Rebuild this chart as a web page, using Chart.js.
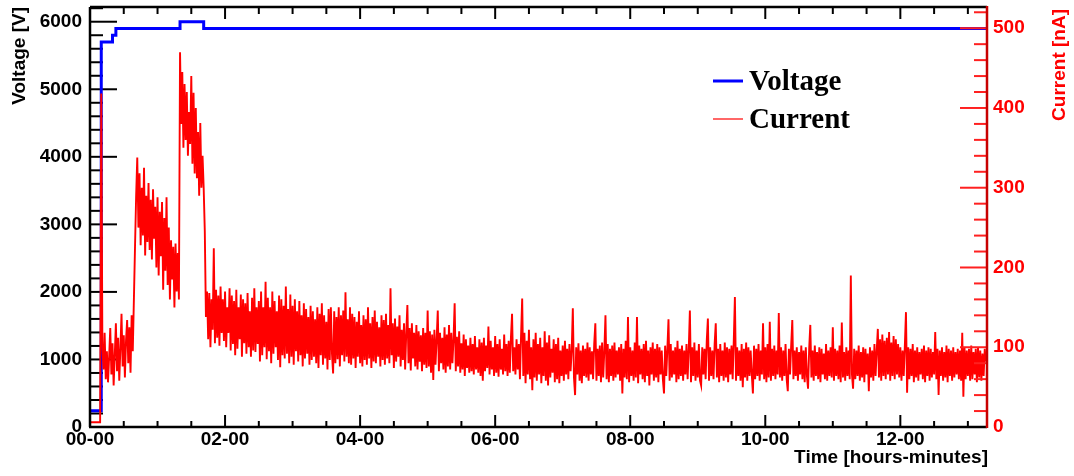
<!DOCTYPE html>
<html><head><meta charset="utf-8">
<script src="https://cdn.jsdelivr.net/npm/chart.js@4.4.0/dist/chart.umd.min.js"></script>
<style>html,body{margin:0;padding:0;background:#fff;overflow:hidden}canvas{display:block}</style>
</head><body>
<canvas id="c" width="1074" height="476"></canvas>
<script>
// ---- data (time in minutes) ----
const currentStartMin = 0;
const currentStepMin = 1;
const currentValues = [
  6,6,6,6,6,6,6,6,6,6, 418,100,72,118,60,95,56,88,124,66,
  105,52,90,130,70,112,58,98,142,76, 115,62,108,134,80,125,68,140,95,160,
  226,290,338,250,318,228,300,240,325,215, 290,232,306,222,285,210,298,236,276,200,
  288,190,270,214,282,172,262,196,288,178, 250,160,234,185,226,150,230,170,218,160,
  470,380,445,350,430,360,420,340,395,355, 440,330,419,318,400,312,370,290,381,300,
  340,300,245,138,170,110,168,100,160,122, 224,105,172,112,165,102,176,118,160,108,
  170,100,150,118,174,96,165,104,158,90, 172,98,150,110,166,88,160,105,155,92,
  168,100,145,88,162,96,174,94,150,104, 158,82,170,90,150,100,182,85,162,95,
  150,80,170,92,158,100,145,84,165,75, 160,90,152,86,176,92,148,80,166,88,
  152,78,160,95,145,82,158,90,140,76, 155,86,148,92,138,78,152,84,145,88,
  135,80,150,74,142,90,155,78,140,86, 132,72,148,84,150,92,67,145,80,138,
  85,150,76,140,90,146,82,169,88,135, 80,150,78,142,86,138,74,132,88,145,
  80,128,76,140,84,135,78,150,86,130, 74,138,82,146,80,132,88,125,76,140,
  84,134,78,142,86,128,80,174,90,130, 74,136,82,126,88,140,76,122,84,130,
  72,118,153,80,124,71,130,86,118,76, 128,72,120,82,115,70,124,78,118,74,
  146,76,120,68,116,59,122,78,110,146, 70,118,80,112,72,125,68,116,76,128,
  72,118,80,110,155,70,113,76,120,68, 105,72,116,64,110,74,102,68,112,70,
  104,66,114,72,100,68,110,64,106,58, 112,70,102,74,126,66,108,72,100,64,
  114,68,104,63,110,72,98,66,116,70, 104,64,108,68,112,142,70,100,66,110,
  72,104,60,115,161,64,118,55,108,66, 122,60,100,46,110,62,118,58,104,66,
  112,55,100,64,120,58,106,52,115,62, 98,68,110,56,104,60,112,55,96,64,
  102,58,108,66,98,60,104,70,96,149, 62,40,100,66,105,58,96,55,102,64,
  98,62,106,58,100,66,95,60,104,130, 58,98,64,102,56,106,62,96,140,60,
  104,56,98,64,102,58,106,62,96,66, 100,58,104,42,98,62,108,60,138,56,
  100,64,96,58,106,62,138,55,102,66, 98,60,104,56,108,64,96,52,100,66,
  106,58,98,62,104,56,100,66,96,60, 42,102,64,98,135,58,104,62,96,66,
  100,56,108,60,98,64,102,58,96,66, 104,60,98,146,56,100,64,106,58,96,
  62,104,58,52,100,66,98,60,108,136, 58,100,64,96,60,104,130,62,98,56,
  104,64,96,58,106,62,100,56,98,66, 102,60,108,163,58,100,64,96,58,104,
  50,98,62,106,58,100,64,96,66,42, 102,60,98,64,104,58,96,66,130,60,
  100,56,104,62,132,58,98,64,102,60, 96,66,143,62,100,58,96,64,104,60,
  45,98,66,102,134,60,96,64,100,58, 94,66,102,60,96,56,100,64,48,98,
  128,62,96,58,102,64,94,60,100,56, 98,66,92,60,104,58,96,64,100,62,
  125,58,98,64,96,60,102,56,131,62, 94,58,100,64,96,60,190,66,48,98,
  60,96,64,102,58,94,62,100,56,98, 66,92,45,100,62,96,58,104,64,96,
  123,62,110,58,116,64,108,60,112,66, 119,58,106,64,114,60,110,66,104,62,
  100,58,96,64,102,144,43,100,60,98, 64,104,56,96,62,100,58,94,66,98,
  60,102,56,96,64,100,58,98,62,94, 66,119,60,98,40,96,64,100,58,94,
  62,102,56,98,64,96,58,100,62,94, 66,98,60,96,58,118,38,100,60,96,
  64,98,58,102,60,94,66,98,56,100, 62,96,58,92,64,98,82
];
const voltageTimes  = [0, 10, 20, 23, 80, 101, 797];
const voltageValues = [240, 5700, 5800, 5900, 6000, 5900, 5900];

const xTickMinutes = [0, 120, 240, 360, 480, 600, 720];
const voltageTicks = [0, 1000, 2000, 3000, 4000, 5000, 6000];
const currentTicks = [0, 100, 200, 300, 400, 500];

const X_MAX = 797, V_MAX = 6218, I_MAX = 526.6;

function fmtTime(m) {
  const h = Math.floor(m / 60), mm = Math.round(m % 60);
  return String(h).padStart(2, '0') + '-' + String(mm).padStart(2, '0');
}

const currentData = currentValues.map((v, i) => ({x: currentStartMin + i * currentStepMin, y: v}));
const voltageData = [];
voltageTimes.forEach((t, i) => {
  if (i > 0) voltageData.push({x: t, y: voltageValues[i - 1]});
  voltageData.push({x: t, y: voltageValues[i]});
});

const FONT = {family: 'Liberation Sans', size: 19, weight: 'bold'};

function seg(ctx, x1, y1, x2, y2) { ctx.beginPath(); ctx.moveTo(x1, y1); ctx.lineTo(x2, y2); ctx.stroke(); }

const rootPlugin = {
  id: 'rootStyle',
  beforeDatasetsDraw(chart) {
    const {ctx, chartArea: a, scales} = chart;
    ctx.save();
    ctx.strokeStyle = '#000'; ctx.lineWidth = 2;
    for (let v = 0; v <= V_MAX; v += 200) {
      const y = scales.yL.getPixelForValue(v);
      seg(ctx, a.left, y, a.left + (v % 1000 === 0 ? 27 : 13), y);
    }
    for (let m = 0; m <= X_MAX; m += 30) {
      const x = scales.x.getPixelForValue(m);
      const major = m % 120 === 0;
      seg(ctx, x, a.bottom, x, a.bottom - (major ? 12 : 6));
      seg(ctx, x, a.top, x, a.top + (major ? 12 : 7));
    }
    ctx.restore();
  },
  afterDatasetsDraw(chart) {
    const {ctx, chartArea: a, scales} = chart;
    ctx.save();
    ctx.strokeStyle = '#ff2020'; ctx.lineWidth = 2;
    for (let v = 0; v <= I_MAX; v += 20) {
      const y = scales.yR.getPixelForValue(v);
      seg(ctx, a.right - (v % 100 === 0 ? 27 : 13), y, a.right, y);
    }
    ctx.lineWidth = 2.5; ctx.strokeStyle = '#000';
    seg(ctx, a.left, a.top, a.right, a.top);
    seg(ctx, a.left, a.top, a.left, a.bottom);
    seg(ctx, a.left - 1, a.bottom, a.right, a.bottom);
    ctx.strokeStyle = '#c80000';
    seg(ctx, a.right, a.top - 1, a.right, a.bottom + 1);
    ctx.restore();
  },
  afterDraw(chart) {
    const {ctx} = chart;
    ctx.save();
    ctx.font = 'bold 19px "Liberation Sans"';
    ctx.fillStyle = '#000'; ctx.textBaseline = 'alphabetic';
    ctx.textAlign = 'right';
    ctx.fillText('Time [hours-minutes]', 988, 463);
    ctx.save(); ctx.translate(25, 7); ctx.rotate(-Math.PI / 2);
    ctx.fillText('Voltage [V]', 0, 0); ctx.restore();
    ctx.save(); ctx.fillStyle = '#ff0000'; ctx.translate(1065, 9); ctx.rotate(-Math.PI / 2);
    ctx.fillText('Current [nA]', 0, 0); ctx.restore();
    // legend
    ctx.lineWidth = 3; ctx.strokeStyle = '#0000ff';
    seg(ctx, 713, 81, 743, 81);
    ctx.lineWidth = 1.2; ctx.strokeStyle = '#ff0000';
    seg(ctx, 713, 119, 743, 119);
    ctx.font = 'bold 29px "Liberation Serif"';
    ctx.textAlign = 'left'; ctx.fillStyle = '#000';
    ctx.fillText('Voltage', 749, 90);
    ctx.fillText('Current', 749, 128);
    ctx.restore();
  }
};

function zeroPad(s) { s.paddingTop = 0; s.paddingBottom = 0; s.paddingLeft = 0; s.paddingRight = 0; }

new Chart(document.getElementById('c'), {
  type: 'line',
  data: {
    datasets: [
      {label: 'Current', data: currentData, yAxisID: 'yR', borderColor: '#ff0000', borderWidth: 1.9,
       pointRadius: 0, tension: 0, fill: false},
      {label: 'Voltage', data: voltageData, yAxisID: 'yL', borderColor: '#0000ff', borderWidth: 3,
       pointRadius: 0, tension: 0, fill: false}
    ]
  },
  options: {
    responsive: false, animation: false, devicePixelRatio: 1, events: [],
    layout: {padding: {top: 7, left: 0, right: 0, bottom: 0}},
    plugins: {legend: {display: false}, tooltip: {enabled: false}},
    scales: {
      x: {
        type: 'linear', position: 'bottom', min: 0, max: X_MAX,
        grid: {display: false, drawTicks: false}, border: {display: false},
        ticks: {font: FONT, color: '#000', padding: 1, maxRotation: 0, autoSkip: false, callback: v => fmtTime(v)},
        afterBuildTicks: s => { s.ticks = xTickMinutes.map(v => ({value: v})); },
        afterFit: s => { s.height = 476 - 427; zeroPad(s); }
      },
      yL: {
        type: 'linear', position: 'left', min: 0, max: V_MAX,
        grid: {display: false, drawTicks: false}, border: {display: false},
        ticks: {font: FONT, color: '#000', padding: 8, autoSkip: false, callback: v => String(v)},
        afterBuildTicks: s => { s.ticks = voltageTicks.map(v => ({value: v})); },
        afterFit: s => { s.width = 90; zeroPad(s); }
      },
      yR: {
        type: 'linear', position: 'right', min: 0, max: I_MAX,
        grid: {display: false, drawTicks: false}, border: {display: false},
        ticks: {font: FONT, color: '#ff0000', padding: 6, autoSkip: false, callback: v => String(v)},
        afterBuildTicks: s => { s.ticks = currentTicks.map(v => ({value: v})); },
        afterFit: s => { s.width = 87; zeroPad(s); }
      }
    }
  },
  plugins: [rootPlugin]
});
</script>
</body></html>
